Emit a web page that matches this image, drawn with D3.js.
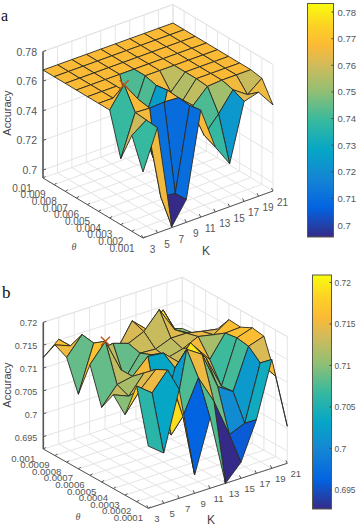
<!DOCTYPE html>
<html><head><meta charset="utf-8">
<style>html,body{margin:0;padding:0;background:#fff}svg{display:block}text{font-family:"Liberation Sans",Arial,sans-serif}</style>
<script src="https://cdnjs.cloudflare.com/ajax/libs/d3/7.8.5/d3.min.js"></script>
</head><body><svg id="c" width="358" height="526"></svg>
<script>
const kValues=[3,5,7,9,11,13,15,17,19,21];
const thetaA=[0.001,0.002,0.003,0.004,0.005,0.006,0.007,0.008,0.009,0.01];
const thetaB=[0.0001,0.0002,0.0003,0.0004,0.0005,0.0006,0.0007,0.0008,0.0009,0.001];
const thetaLabelsA=["0.001","0.002","0.003","0.004","0.005","0.006","0.007","0.008","0.009","0.01"];
const thetaLabelsB=["0.0001","0.0002","0.0003","0.0004","0.0005","0.0006","0.0007","0.0008","0.0009","0.001"];
const zTicksA=[0.7,0.72,0.74,0.76,0.78];
const zTicksB=[0.695,0.7,0.705,0.71,0.715,0.72];
const barTicksA=[0.7,0.71,0.72,0.73,0.74,0.75,0.76,0.77,0.78];
const barTicksB=[0.695,0.7,0.705,0.71,0.715,0.72];
const accuracyA=[
[.7392,.7655,.6953,.7101,.7668,.7385,.7236,.7621,.7648,.7527],
[.7594,.7662,.7108,.7095,.7655,.7419,.7527,.7655,.7587,.7662],
[.7392,.7668,.7662,.7668,.7662,.7574,.7668,.7675,.7675,.7675],
[.7675,.7810,.7675,.7250,.7668,.7554,.7675,.7675,.7675,.7675],
[.7675,.7675,.7675,.7419,.7655,.7574,.7675,.7675,.7675,.7675],
[.7675,.7675,.7675,.7419,.7675,.7675,.7675,.7675,.7675,.7675],
[.7675,.7675,.7675,.7675,.7675,.7675,.7675,.7675,.7675,.7675],
[.7675,.7675,.7675,.7675,.7675,.7675,.7675,.7675,.7675,.7675],
[.7675,.7675,.7675,.7675,.7675,.7675,.7675,.7675,.7675,.7675],
[.7675,.7675,.7675,.7675,.7675,.7675,.7675,.7675,.7675,.7675]];
const accuracyB=[
[.7059,.7033,.7161,.6963,.7077,.6923,.6958,.7040,.7161,.7004],
[.7176,.7150,.7189,.7077,.7150,.7088,.7004,.7018,.7139,.7099],
[.7099,.7143,.7176,.7022,.7198,.7176,.7095,.7073,.7161,.7172],
[.7128,.7114,.7154,.7033,.7143,.7187,.7143,.7070,.7165,.7176],
[.7086,.7125,.7132,.7165,.7161,.7130,.7154,.7114,.7161,.7163],
[.7165,.7205,.7132,.7088,.7143,.7125,.7134,.7150,.7143,.7165],
[.7086,.7187,.7125,.7086,.7132,.7130,.7143,.7143,.7136,.7130],
[.7152,.7191,.7143,.7150,.7139,.7154,.7191,.7136,.7117,.7110],
[.7165,.7152,.7132,.7121,.7110,.7163,.7132,.7165,.7099,.7092],
[.7123,.7152,.7121,.7110,.7099,.7077,.7073,.7121,.7099,.7088]];
const parula=["#352A87","#0363E1","#1485D4","#06A7C6","#38B99E","#92BF73","#D9BA56","#FBBA35","#FDD025","#F9FB0E"];
const parulaPos=[0,.125,.25,.375,.5,.625,.75,.82,.9,1];

const svg=d3.select("#c");
function panel(o){
  const g=svg.append("g");
  const kS=d3.scaleLinear().domain([3,21]).range([0,1]);
  const tS=d3.scaleLinear().domain(d3.extent(o.theta)).range([0,1]);
  const hS=d3.scaleLinear().domain(o.zDom).range([0,o.hMax]);
  const P=(k,t,z)=>{const a=kS(k),b=tS(t),h=hS(z);
    return [o.F[0]+a*o.KV[0]+b*o.TV[0], o.F[1]+a*o.KV[1]+b*o.TV[1]-h];};
  const zTop=o.zDom[1], zBot=o.zDom[0], t0=o.theta[0], t1=o.theta[9];
  const grid=g.append("g").attr("stroke","#e4e4e4").attr("stroke-width",1).attr("fill","none");
  const ln=(a,b)=>grid.append("line").attr("x1",a[0]).attr("y1",a[1]).attr("x2",b[0]).attr("y2",b[1]);
  kValues.forEach(k=>{ln(P(k,t0,zBot),P(k,t1,zBot));ln(P(k,t1,zBot),P(k,t1,zTop));});
  o.theta.forEach(t=>{ln(P(3,t,zBot),P(21,t,zBot));ln(P(21,t,zBot),P(21,t,zTop));});
  o.zTicks.forEach(z=>{ln(P(3,t1,z),P(21,t1,z));ln(P(21,t1,z),P(21,t0,z));});
  ln(P(3,t1,zTop),P(21,t1,zTop));ln(P(21,t1,zTop),P(21,t0,zTop));
  const ax=g.append("g").attr("stroke","#555").attr("fill","none");
  const al=(a,b,w)=>ax.append("line").attr("x1",a[0]).attr("y1",a[1]).attr("x2",b[0]).attr("y2",b[1]).attr("stroke-width",w||1);
  al(P(3,t1,zBot),P(3,t1,zTop),1.6);
  al(P(3,t1,zBot),P(3,t0,zBot));
  al(P(3,t0,zBot),P(21,t0,zBot));
  o.zTicks.forEach(z=>{const p=P(3,t1,z);al(p,[p[0]+3,p[1]-1]);
    g.append("text").attr("x",p[0]-6).attr("y",p[1]+4).attr("text-anchor","end").attr("font-size",o.fz).attr("fill","#555").text(o.fmt(z));});
  kValues.forEach(k=>{const p=P(k,t0,zBot);al(p,[p[0]-1.5,p[1]-3]);
    g.append("text").attr("x",p[0]+o.kOff[0]).attr("y",p[1]+o.kOff[1]+4).attr("text-anchor","middle").attr("font-size",o.fs).attr("fill","#555").text(k);});
  o.theta.forEach((t,i)=>{const p=P(3,t,zBot);al(p,[p[0]+2.5,p[1]-1.5]);
    g.append("text").attr("x",p[0]+o.tOff[0]).attr("y",p[1]+o.tOff[1]+4).attr("text-anchor","middle").attr("font-size",o.fs).attr("fill","#555").text(o.tLabels[i]);});
  g.append("text").attr("transform",`translate(${o.zLab[0]},${o.zLab[1]}) rotate(-90)`).attr("text-anchor","middle").attr("font-size",11).attr("fill","#444").text("Accuracy");
  g.append("text").attr("x",o.kLab[0]).attr("y",o.kLab[1]).attr("text-anchor","middle").attr("font-size",12).attr("fill","#444").text("K");
  g.append("text").attr("x",o.tLab[0]).attr("y",o.tLab[1]).attr("text-anchor","middle").attr("font-size",10).attr("font-style","italic").style("font-family","Liberation Serif").attr("fill","#555").text("θ");
  g.append("text").attr("x",o.letter[0]).attr("y",o.letter[1]).attr("font-size",o.letter[2]).style("font-family","Liberation Serif").attr("fill","#111").text(o.name);
  const b=o.bar;
  const col=d3.scaleLinear().domain(parulaPos.map(p=>b.dom[0]+p*(b.dom[1]-b.dom[0]))).range(parula).clamp(true);
  const faces=[];
  for(let j=0;j<9;j++)for(let i=0;i<9;i++)faces.push({i,j});
  faces.sort((a,b)=>(b.i+b.j)-(a.i+a.j));
  const line=d3.line();
  g.append("g").selectAll("path").data(faces).join("path")
   .attr("d",d=>{const {i,j}=d;const q=(a,b)=>P(kValues[a],o.theta[b],o.data[b][a]);
     return line([q(i,j),q(i+1,j),q(i+1,j+1),q(i,j+1)])+"Z";})
   .attr("fill",d=>col(o.data[d.j][d.i]))
   .attr("stroke","#2a2a22").attr("stroke-width",0.9).attr("stroke-linejoin","round");
  let best=null;o.data.forEach((r,j)=>r.forEach((v,i)=>{if(!best||v>best.v)best={v,i,j};}));
  const m=P(kValues[best.i],o.theta[best.j],best.v);
  const s=4.5;
  g.append("path").attr("d",`M${m[0]-s},${m[1]-s}L${m[0]+s},${m[1]+s}M${m[0]-s},${m[1]+s}L${m[0]+s},${m[1]-s}`).attr("stroke","#b4541c").attr("stroke-width",1.4).attr("fill","none");
  const id="grad"+o.name;
  const lg=svg.append("defs").append("linearGradient").attr("id",id).attr("x1",0).attr("x2",0).attr("y1",1).attr("y2",0);
  parula.forEach((c,i)=>lg.append("stop").attr("offset",parulaPos[i]).attr("stop-color",c));
  const yb=d3.scaleLinear().domain(b.dom).range([b.y1,b.y0]);
  g.append("rect").attr("x",b.x0).attr("y",b.y0).attr("width",b.x1-b.x0).attr("height",b.y1-b.y0).attr("fill",`url(#${id})`).attr("stroke","#5a5a4a").attr("stroke-width",1);
  b.ticks.forEach(v=>{const y=yb(v);
    g.append("line").attr("x1",b.x1-2).attr("x2",b.x1).attr("y1",y).attr("y2",y).attr("stroke","#444");
    g.append("text").attr("x",b.x1+b.lx).attr("y",y+3.5).attr("font-size",b.fs).attr("fill","#555").text(o.fmt(v));});
}
const fmt=v=>String(+v.toFixed(4));
panel({name:"a",theta:thetaA,tLabels:thetaLabelsA,data:accuracyA,zTicks:zTicksA,fmt,
  F:[143,238],KV:[130,-47],TV:[-100,-60],zDom:[.6946,.78],hMax:126.5,fs:10,fz:10.5,
  kOff:[9.5,11],tOff:[-21,9.5],zLab:[10.5,113],kLab:[206,255],tLab:[74,250],letter:[1,21,16],
  bar:{x0:307.5,x1:333.5,y0:3.5,y1:237,dom:[.6955,.7832],ticks:barTicksA,lx:4,fs:9.5}});
panel({name:"b",theta:thetaB,tLabels:thetaLabelsB,data:accuracyB,zTicks:zTicksB,fmt,
  F:[148.3,508.3],KV:[139,-45],TV:[-105,-59.3],zDom:[.6923,.72],hMax:126.7,fs:9.6,fz:9,
  kOff:[8.5,10],tOff:[-20,8.7],zLab:[10.5,385],kLab:[211,524],tLab:[78,520],letter:[2,298,17],
  bar:{x0:312.5,x1:331.5,y0:275,y1:509,dom:[.6927,.7209],ticks:barTicksB,lx:3,fs:8.4}});
</script></body></html>
